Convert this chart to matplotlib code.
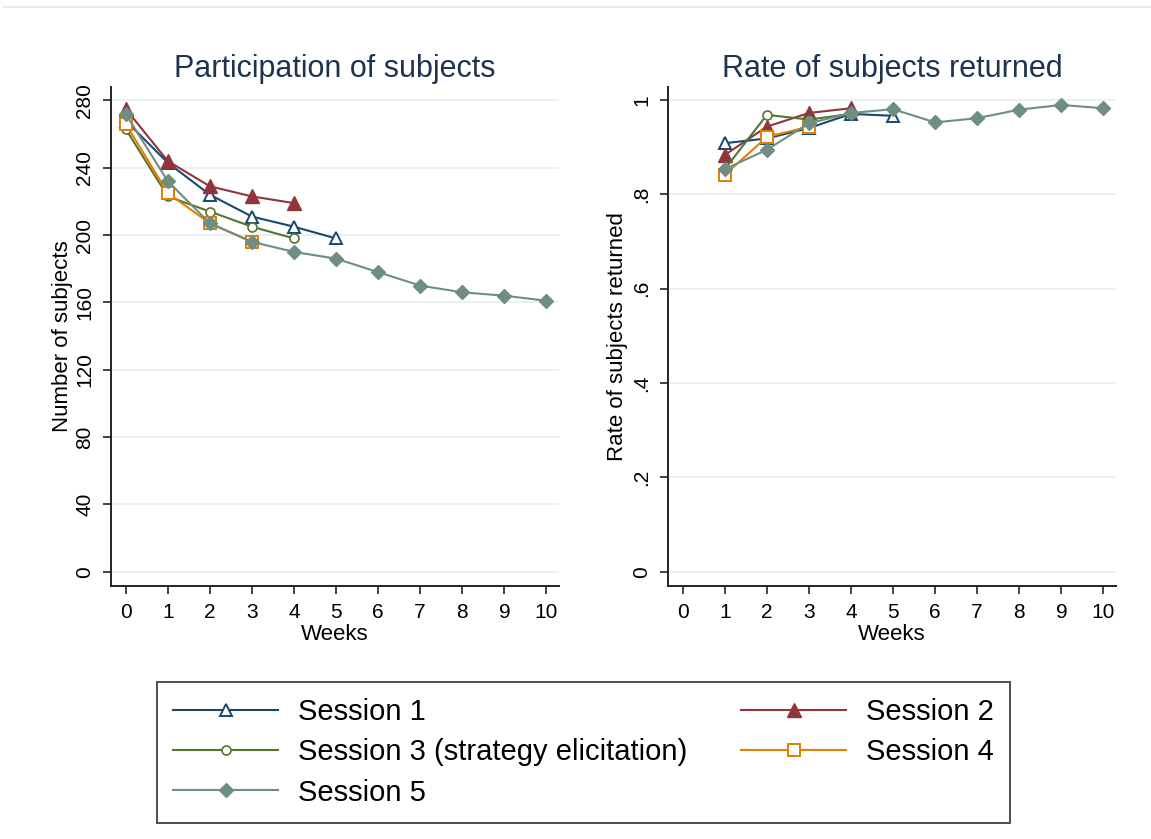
import matplotlib
matplotlib.use('Agg')
import matplotlib.pyplot as plt
from matplotlib.lines import Line2D

plt.rcParams['font.family'] = ['Liberation Sans', 'DejaVu Sans']

# Subjects taking part in each week, by session
weeks_s1 = [0, 1, 2, 3, 4, 5]
subj_s1 = [268, 243, 224, 211, 205, 198]
weeks_s2 = [0, 1, 2, 3, 4]
subj_s2 = [275, 244, 229, 223, 219]
weeks_s3 = [0, 1, 2, 3, 4]
subj_s3 = [263, 223, 214, 205, 198]
weeks_s4 = [0, 1, 2, 3]
subj_s4 = [266, 225, 207, 196]
weeks_s5 = [0, 1, 2, 3, 4, 5, 6, 7, 8, 9, 10]
subj_s5 = [272, 232, 207, 196, 190, 186, 178, 170, 166, 164, 161]

# Share of last week's subjects that came back
rate_s1 = [0.908, 0.918, 0.940, 0.970, 0.966]
rate_s2 = [0.883, 0.943, 0.972, 0.982]
rate_s3 = [0.853, 0.968, 0.958, 0.970]
rate_s4 = [0.841, 0.921, 0.943]
rate_s5 = [0.853, 0.894, 0.950, 0.972, 0.980, 0.952, 0.961, 0.979, 0.989, 0.982]

labels = ['Session 1', 'Session 2', 'Session 3 (strategy elicitation)',
          'Session 4', 'Session 5']
colors = ['#1a476f', '#90353b', '#55752f', '#e37e00', '#6e8e84']
styles = [dict(marker='^', ms=9, mfc='white', mew=1.4),
          dict(marker='^', ms=10, mew=1.0),
          dict(marker='o', ms=6.5, mfc='white', mew=1.2),
          dict(marker='s', ms=8.5, mfc='white', mew=1.4),
          dict(marker='D', ms=7, mew=1.0)]

subj = [(weeks_s1, subj_s1), (weeks_s2, subj_s2), (weeks_s3, subj_s3),
        (weeks_s4, subj_s4), (weeks_s5, subj_s5)]
rate = [(weeks_s1[1:], rate_s1), (weeks_s2[1:], rate_s2), (weeks_s3[1:], rate_s3),
        (weeks_s4[1:], rate_s4), (weeks_s5[1:], rate_s5)]

W, H = 1151, 839
fig = plt.figure(figsize=(W / 100, H / 100), dpi=100)
ax1 = fig.add_axes([111 / W, 1 - 586 / H, 448 / W, 499 / H])
ax2 = fig.add_axes([668 / W, 1 - 586 / H, 448 / W, 499 / H])

title_col = '#1f3350'
handles = []
for i in range(5):
    h, = ax1.plot(*subj[i], color=colors[i], lw=1.5, mec=colors[i], **styles[i])
    ax2.plot(*rate[i], color=colors[i], lw=1.5, mec=colors[i], **styles[i])
    handles.append(h)

ax1.set_ylim(-8.5, 288)
ax1.set_yticks(range(0, 281, 40))
ax1.set_yticklabels([str(v) for v in range(0, 281, 40)])
ax1.set_ylabel('Number of subjects', fontsize=16, labelpad=2)
ax1.set_title('Participation of subjects', fontsize=22, color=title_col, pad=7)

ax2.set_ylim(-0.03, 1.027)
ax2.set_yticks([0, 0.2, 0.4, 0.6, 0.8, 1.0])
ax2.set_yticklabels(['0', '.2', '.4', '.6', '.8', '1'])
ax2.set_ylabel('Rate of subjects returned', fontsize=16, labelpad=3)
ax2.set_title('Rate of subjects returned', fontsize=22, color=title_col, pad=7)

for ax in (ax1, ax2):
    ax.set_xlim(-0.35, 10.3)
    ax.set_xticks(range(11))
    ax.set_xlabel('Weeks', fontsize=16, labelpad=2)
    ax.tick_params(labelsize=15, length=6, width=1.2, color='#222222')
    ax.tick_params(axis='x', pad=6)
    ax.tick_params(axis='y', pad=6)
    for lab in ax.get_yticklabels():
        lab.set_rotation(90)
        lab.set_va('center')
    ax.grid(axis='y', color='#e6eef0', lw=1.2)
    ax.set_axisbelow(True)
    for s in ('top', 'right'):
        ax.spines[s].set_visible(False)
    for s in ('left', 'bottom'):
        ax.spines[s].set_linewidth(1.4)
        ax.spines[s].set_color('#222222')

order = [0, 2, 4, 1, 3]
leg = fig.legend([handles[k] for k in order], [labels[k] for k in order],
                 loc='upper left', bbox_to_anchor=(157 / W, 1 - 682 / H),
                 ncol=2, fontsize=21, frameon=True, fancybox=False,
                 edgecolor='#222222', borderpad=0.55, handlelength=3.6,
                 handletextpad=0.68, columnspacing=1.85, labelspacing=0.42,
                 borderaxespad=0)
leg.get_frame().set_linewidth(1.4)

# thin rule across the top of the page
fig.add_artist(Line2D([4 / W, 1], [1 - 7 / H, 1 - 7 / H], color='#e6ecef', lw=1.5))

fig.savefig('out.png', dpi=100)
